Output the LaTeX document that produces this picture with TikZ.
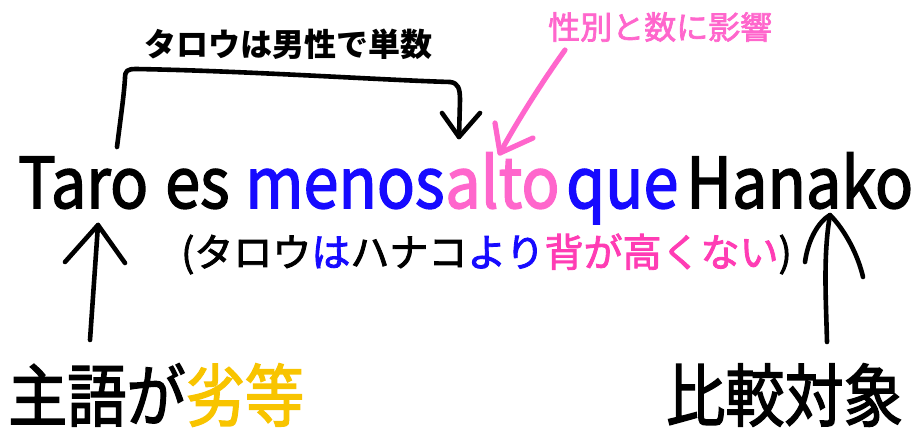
\documentclass[tikz,border=0pt]{standalone}
\usepackage{fontspec}
\setmainfont{Noto Sans CJK JP}
\newfontfamily\medfont{Noto Sans CJK JP}[FakeBold=2.2]
\definecolor{blueT}{RGB}{22,10,255}
\definecolor{pinkA}{RGB}{255,102,204}
\definecolor{pinkB}{RGB}{255,60,180}
\definecolor{goldT}{RGB}{248,196,0}
\tikzset{
  word/.style={anchor=base west, inner sep=0pt, font=\medfont\fontsize{70}{80}\selectfont},
  lbl/.style={anchor=west, inner sep=0pt},
  hand/.style={line width=4.6pt, line cap=round, line join=round},
}
\newcommand{\cond}[1]{\scalebox{0.9}[1]{#1}}
\newcommand{\condb}[1]{\scalebox{0.87}[1]{#1}}
\begin{document}
\begin{tikzpicture}[x=1pt,y=-1pt]
\useasboundingbox (0,0) rectangle (916,435);
% main sentence
\node[word] (taro) at (18,208) {\cond{Taro}};
\node[word] (es) at (165,208) {\cond{es}};
\node[word, text=blueT] (menos) at (245,208) {\cond{menos}};
\node[word, text=pinkA] (alto) at (445,208) {\cond{alto}};
\node[word, text=blueT] (que) at (566,208) {\cond{que}};
\node[word] (hanako) at (686,208) {\cond{Hanako}};
% labels
\node[lbl, font=\fontsize{32}{36}\selectfont\bfseries] (top) at (144,44) {タロウは男性で単数};
\node[lbl, font=\medfont\fontsize{32}{36}\selectfont, text=pinkA] (gen) at (548,27) {性別と数に影響};
\node[lbl, font=\medfont\fontsize{39}{44}\selectfont] (trans) at (181,254) {(タロウ\textcolor{blueT}{は}ハナコ\textcolor{blueT}{より}\textcolor{pinkB}{背が高くない})};
\node[lbl, font=\medfont\fontsize{68}{76}\selectfont] (subj) at (8,395) {\condb{主語が\textcolor{goldT}{劣等}}};
\node[lbl, font=\medfont\fontsize{68}{76}\selectfont] (comp) at (666,395) {\condb{比較対象}};
% bracket arrow
\coordinate (b0) at (117,147);
\coordinate (b1) at (459,137);
\draw[hand] (b0) .. controls (121,115) and (124,95) .. (125,78)
  .. controls (125,71) and (127,69) .. (136,69)
  .. controls (250,71) and (380,80) .. (450,82)
  .. controls (458,83) and (460,88) .. (460,100) -- (b1);
\draw[hand] (442,113) -- (b1) -- (480,113);
% pink arrow
\coordinate (p0) at (565,50);
\coordinate (p1) at (500,153);
\draw[hand, draw=pinkA, line width=5.2pt] (p0) .. controls (540,85) and (515,125) .. (p1);
\draw[hand, draw=pinkA, line width=5.2pt] (495,123) -- (p1) -- (533,138);
% left arrow
\coordinate (l0) at (90,340);
\coordinate (l1) at (98,225);
\draw[hand] (l0) -- (l1);
\draw[hand] (65,262) -- (l1) -- (125,263);
% right arrow
\coordinate (r0) at (827,342);
\coordinate (r1) at (830,215);
\draw[hand] (r0) .. controls (826,300) and (823,255) .. (r1);
\draw[hand] (805,262) .. controls (808,240) and (818,222) .. (r1)
  .. controls (845,230) and (858,255) .. (863,277);
\end{tikzpicture}
\end{document}
